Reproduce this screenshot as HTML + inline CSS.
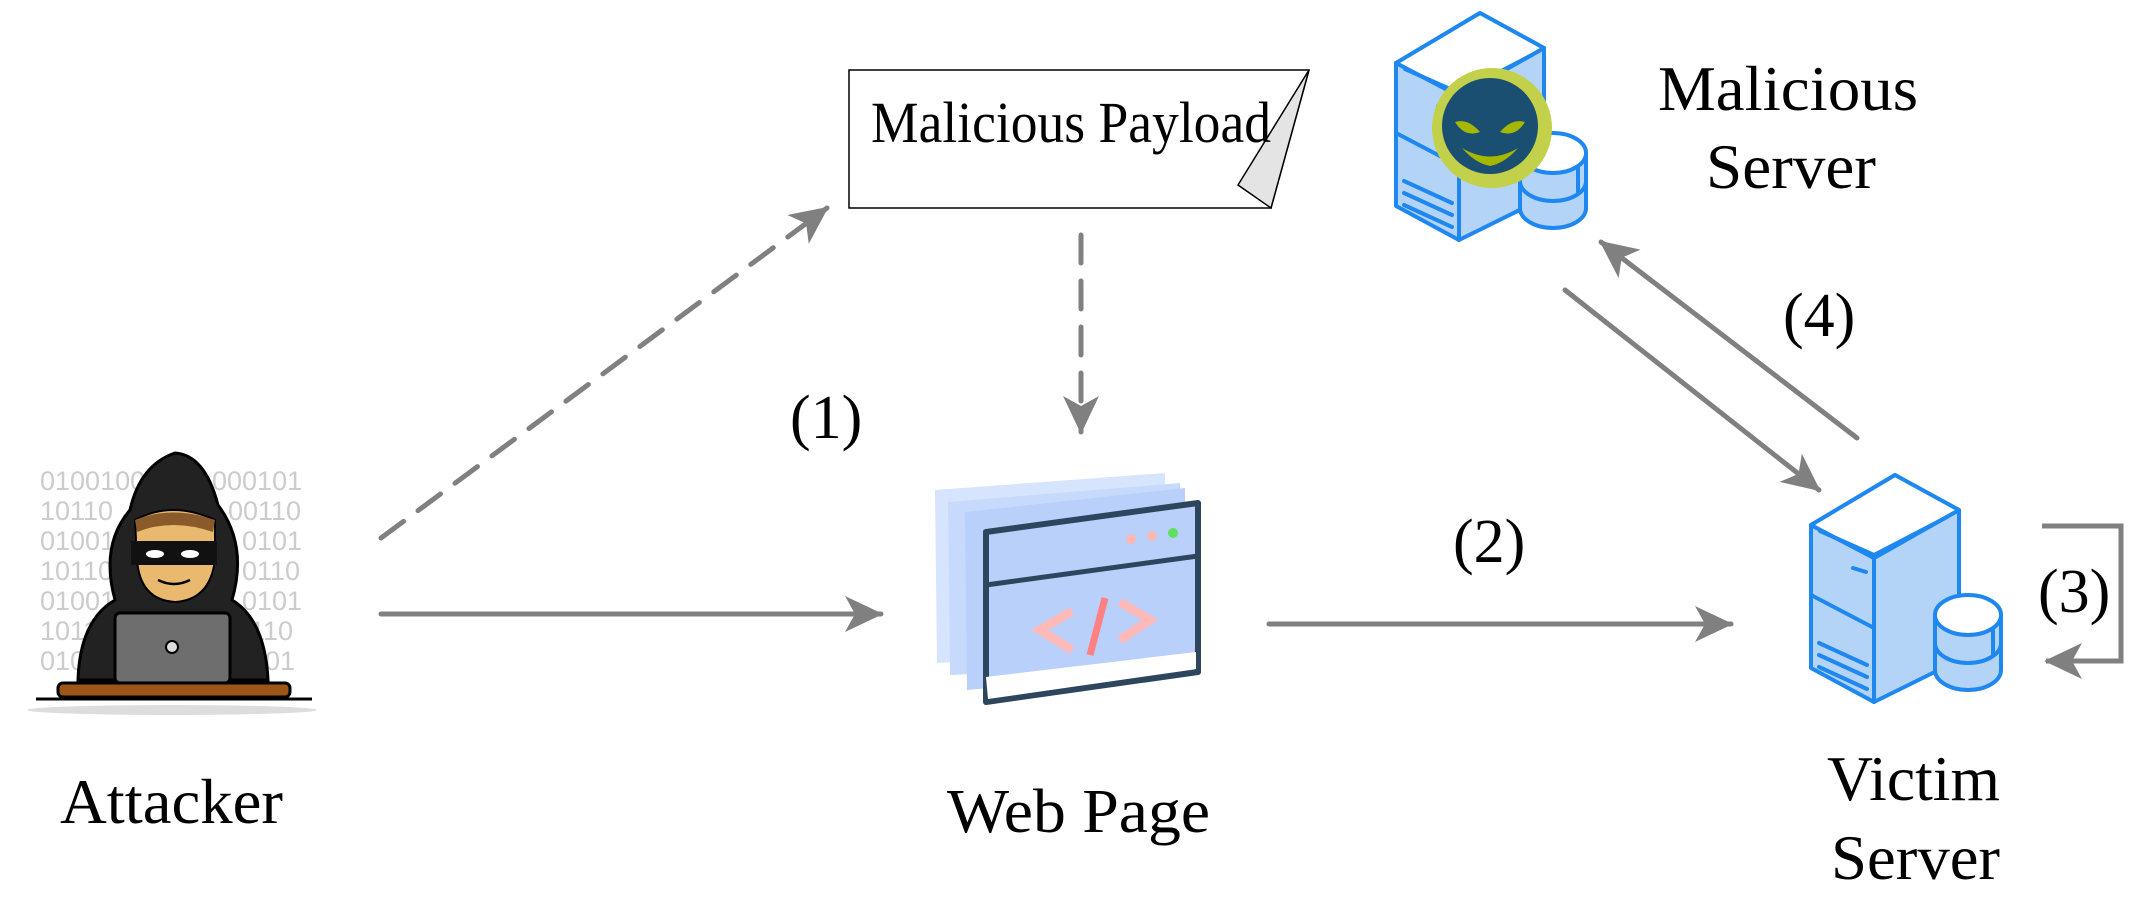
<!DOCTYPE html>
<html><head><meta charset="utf-8"><style>
html,body{margin:0;padding:0;background:#fff}
svg{display:block}
text{font-family:"Liberation Serif",serif;fill:#000}
</style></head><body>
<svg width="2144" height="900" viewBox="0 0 2144 900" xmlns="http://www.w3.org/2000/svg">
<defs>
<marker id="ah" markerUnits="userSpaceOnUse" markerWidth="40" markerHeight="40" refX="36" refY="18" orient="auto" viewBox="0 0 40 36">
<path d="M0,0 L38,18 L0,36 L10,18 Z" fill="#808080"/>
</marker>
<g id="srv" stroke="#1e88f0" stroke-width="4" stroke-linejoin="round" stroke-linecap="round">
<path d="M0,0 L-84,50 L-84,193 L-21,227 L64,185 L64,35 Z" fill="#b3d4f7"/>
<path d="M-84,50 L-21,83 L64,35" fill="none"/>
<path d="M0,0 L-84,50 L-21,83 L64,35 Z" fill="#fff"/>
<path d="M-75,56 L-21,80 M-21,80 L52,42" fill="none"/>
<path d="M-21,83 L-21,227 M-84,120 L-21,153 M-76,168 L-28,190 M-76,180 L-28,202 M-76,192 L-28,214 M-42,93 L-29,97" fill="none"/>
<path d="M40,140 L40,195 A33,20 0 0 0 106,195 L106,140 Z" fill="#b3d4f7"/>
<ellipse cx="73" cy="140" rx="33" ry="20" fill="#fff"/>
<path d="M40,168 A33,20 0 0 0 106,168 M98,155 L98,180" fill="none"/>
</g>
</defs>

<!-- Attacker -->
<g font-family="Liberation Sans,sans-serif" font-size="27" fill="#ccc">
<text x="40" y="490" style="fill:#ccc;font-family:'Liberation Sans',sans-serif">0100100</text>
<text x="40" y="520" style="fill:#ccc;font-family:'Liberation Sans',sans-serif">10110</text>
<text x="40" y="550" style="fill:#ccc;font-family:'Liberation Sans',sans-serif">01001</text>
<text x="40" y="580" style="fill:#ccc;font-family:'Liberation Sans',sans-serif">10110</text>
<text x="40" y="610" style="fill:#ccc;font-family:'Liberation Sans',sans-serif">01001</text>
<text x="40" y="640" style="fill:#ccc;font-family:'Liberation Sans',sans-serif">1011</text>
<text x="40" y="670" style="fill:#ccc;font-family:'Liberation Sans',sans-serif">010</text>
<text x="212" y="490" style="fill:#ccc;font-family:'Liberation Sans',sans-serif">000101</text>
<text x="228" y="520" style="fill:#ccc;font-family:'Liberation Sans',sans-serif">00110</text>
<text x="242" y="550" style="fill:#ccc;font-family:'Liberation Sans',sans-serif">0101</text>
<text x="242" y="580" style="fill:#ccc;font-family:'Liberation Sans',sans-serif">0110</text>
<text x="242" y="610" style="fill:#ccc;font-family:'Liberation Sans',sans-serif">0101</text>
<text x="250" y="640" style="fill:#ccc;font-family:'Liberation Sans',sans-serif">110</text>
<text x="265" y="670" style="fill:#ccc;font-family:'Liberation Sans',sans-serif">01</text>
</g>
<path d="M175,453 Q140,465 130,510 Q100,545 115,600 Q80,620 78,680 L268,680 Q265,620 232,600 Q248,545 218,505 Q205,455 175,453 Z" fill="#222" stroke="#000" stroke-width="3"/>
<path d="M135,520 Q172,500 215,520 L215,560 Q210,600 175,602 Q140,600 137,560 Z" fill="#e8b96e" stroke="#000" stroke-width="2"/>
<path d="M135,520 Q172,505 215,520 L213,532 Q172,518 137,532 Z" fill="#8b5a2b"/>
<rect x="131" y="541" width="86" height="24" fill="#111"/>
<ellipse cx="155" cy="554" rx="9" ry="4" fill="#fff"/>
<ellipse cx="190" cy="554" rx="9" ry="4" fill="#fff"/>
<path d="M158,580 Q174,588 190,580" stroke="#000" stroke-width="2.5" fill="none"/>
<rect x="115" y="613" width="115" height="70" rx="5" fill="#6e6e6e" stroke="#000" stroke-width="3"/>
<circle cx="172" cy="647" r="6" fill="#ddd" stroke="#000" stroke-width="2"/>
<rect x="58" y="683" width="232" height="14" rx="5" fill="#9b5618" stroke="#000" stroke-width="3"/>
<line x1="36" y1="699" x2="312" y2="699" stroke="#000" stroke-width="3"/>
<ellipse cx="172" cy="710" rx="145" ry="5" fill="#ddd"/>
<text x="60" y="823" font-size="64" textLength="223" lengthAdjust="spacingAndGlyphs">Attacker</text>

<!-- Arrows attacker -->
<line x1="381" y1="538" x2="827" y2="208" stroke="#808080" stroke-width="5" stroke-dasharray="28,18" stroke-linecap="round" marker-end="url(#ah)"/>
<line x1="381" y1="614" x2="881" y2="614" stroke="#808080" stroke-width="5" stroke-linecap="round" marker-end="url(#ah)"/>
<text x="790" y="438" font-size="62">(1)</text>

<!-- Payload -->
<path d="M849,70 L1309,70 L1271,208 L849,208 Z" fill="#fff" stroke="#000" stroke-width="1.5"/>
<path d="M1309,70 L1238,185 L1271,208 Z" fill="#e4e4e4" stroke="#000" stroke-width="1.5"/>
<text x="871" y="142" font-size="58" textLength="400" lengthAdjust="spacingAndGlyphs">Malicious Payload</text>
<line x1="1081" y1="235" x2="1081" y2="432" stroke="#808080" stroke-width="5" stroke-dasharray="28,18" stroke-linecap="round" marker-end="url(#ah)"/>

<!-- Web page -->
<path d="M935,490 L1165,473 L1167,650 L937,663 Z" fill="#d6e5fd"/>
<path d="M948,502 L1180,483 L1182,665 L950,675 Z" fill="#c8dafc"/>
<path d="M965,512 L1185,488 L1187,670 L967,690 Z" fill="#b9d0fb"/>
<path d="M986,532 L1198,503 L1198,672 L986,702 Z" fill="#b9d0fb" stroke="#2d465e" stroke-width="6" stroke-linejoin="round"/>
<path d="M986,677 L1196,652 L1196,669 L988,699 Z" fill="#fff"/>
<path d="M986,585 L1198,556" stroke="#2d465e" stroke-width="5"/>
<circle cx="1131" cy="539" r="5" fill="#ffb6b6"/>
<circle cx="1152" cy="536" r="5" fill="#ffb6b6"/>
<circle cx="1173" cy="533" r="5" fill="#5fe05f"/>
<path d="M1072,611 L1040,630 L1072,650" stroke="#ffb9b9" stroke-width="9" fill="none"/>
<path d="M1105,598 L1090,655" stroke="#ff8080" stroke-width="7" fill="none"/>
<path d="M1120,602 L1150,620 L1120,640" stroke="#ffb9b9" stroke-width="9" fill="none"/>
<text x="947" y="832" font-size="62" textLength="263" lengthAdjust="spacingAndGlyphs">Web Page</text>

<!-- Arrow 2 -->
<line x1="1269" y1="624" x2="1731" y2="624" stroke="#808080" stroke-width="5" stroke-linecap="round" marker-end="url(#ah)"/>
<text x="1453" y="562" font-size="62">(2)</text>

<!-- Malicious server -->
<use href="#srv" x="1480" y="13"/>
<circle cx="1492" cy="128" r="60" fill="#c2d04a"/>
<circle cx="1490" cy="126" r="48" fill="#1b4f72"/>
<path d="M1455,122 Q1468,118 1480,132 Q1465,138 1455,122 Z M1525,122 Q1512,118 1500,132 Q1515,138 1525,122 Z" fill="#a6b700"/>
<path d="M1462,148 Q1490,165 1518,148 Q1505,163 1490,166 Q1475,163 1462,148 Z" fill="#a6b700"/>
<text x="1658" y="110" font-size="64" textLength="260" lengthAdjust="spacingAndGlyphs">Malicious</text>
<text x="1706" y="188" font-size="64" textLength="170" lengthAdjust="spacingAndGlyphs">Server</text>

<!-- Arrows 4 -->
<line x1="1565" y1="290" x2="1819" y2="490" stroke="#808080" stroke-width="5" stroke-linecap="round" marker-end="url(#ah)"/>
<line x1="1857" y1="438" x2="1601" y2="242" stroke="#808080" stroke-width="5" stroke-linecap="round" marker-end="url(#ah)"/>
<text x="1783" y="336" font-size="62">(4)</text>

<!-- Victim server -->
<use href="#srv" x="1895" y="475"/>
<text x="1827" y="800" font-size="64" textLength="173" lengthAdjust="spacingAndGlyphs">Victim</text>
<text x="1831" y="879" font-size="64" textLength="169" lengthAdjust="spacingAndGlyphs">Server</text>

<!-- Loop 3 -->
<polyline points="2042,526 2121,526 2121,661 2046,661" fill="none" stroke="#808080" stroke-width="5" marker-end="url(#ah)"/>
<text x="2038" y="612" font-size="62">(3)</text>
</svg>
</body></html>
